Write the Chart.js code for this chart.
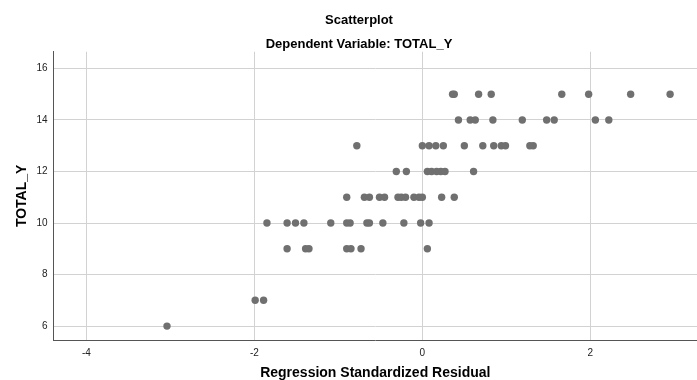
<!DOCTYPE html>
<html>
<head>
<meta charset="utf-8">
<script src="https://cdn.jsdelivr.net/npm/chart.js@4/dist/chart.umd.min.js"></script>
<style>
  html, body { margin: 0; padding: 0; background: #ffffff; }
  #wrap { width: 697px; height: 380px; }
</style>
</head>
<body>
<div id="wrap"><canvas id="c" width="697" height="380"></canvas></div>
<script>
// Regression standardized residuals (x) and TOTAL_Y (y)
const residuals = [
  -3.04,
  -1.99, -1.89,
  -1.61, -1.39, -1.35, -0.90, -0.85, -0.73, 0.06,
  -1.85, -1.61, -1.51, -1.41, -1.09, -0.90, -0.86, -0.66, -0.63, -0.47, -0.22, -0.02, 0.08,
  -0.90, -0.69, -0.63, -0.51, -0.45, -0.29, -0.25, -0.20, -0.10, -0.04, 0.00, 0.23, 0.38,
  -0.31, -0.19, 0.06, 0.11, 0.17, 0.22, 0.27, 0.61,
  -0.78, 0.00, 0.08, 0.16, 0.25, 0.50, 0.72, 0.85, 0.94, 0.99, 1.28, 1.32,
  0.43, 0.57, 0.63, 0.84, 1.19, 1.48, 1.57, 2.06, 2.22,
  0.36, 0.38, 0.67, 0.82, 1.66, 1.98, 2.48, 2.95
];
const totalY = [
  6,
  7, 7,
  9, 9, 9, 9, 9, 9, 9,
  10, 10, 10, 10, 10, 10, 10, 10, 10, 10, 10, 10, 10,
  11, 11, 11, 11, 11, 11, 11, 11, 11, 11, 11, 11, 11,
  12, 12, 12, 12, 12, 12, 12, 12,
  13, 13, 13, 13, 13, 13, 13, 13, 13, 13, 13, 13,
  14, 14, 14, 14, 14, 14, 14, 14, 14,
  15, 15, 15, 15, 15, 15, 15, 15
];
const xTicks = [-4, -2, 0, 2];
const yTicks = [6, 8, 10, 12, 14, 16];
const chartTitle = 'Scatterplot';
const chartSubtitle = 'Dependent Variable: TOTAL_Y';
const xTitle = 'Regression Standardized Residual';
const yTitle = 'TOTAL_Y';

const points = residuals.map((r, i) => ({ x: r, y: totalY[i] }));
const FONT = "Arial, 'Liberation Sans', sans-serif";

new Chart(document.getElementById('c'), {
  type: 'scatter',
  data: {
    datasets: [{
      data: points,
      backgroundColor: '#707070',
      borderColor: '#707070',
      borderWidth: 0,
      pointRadius: 3.7,
      pointHoverRadius: 3.7
    }]
  },
  options: {
    responsive: false,
    animation: false,
    layout: { autoPadding: false, padding: { left: 21, right: 0, top: 0, bottom: 0 } },
    plugins: {
      legend: { display: false },
      tooltip: { enabled: false },
      title: {
        display: true,
        text: chartTitle,
        color: '#000',
        font: { family: FONT, size: 13, weight: 'bold', lineHeight: 1.2 },
        padding: { top: 13, bottom: 0 }
      },
      subtitle: {
        display: true,
        text: chartSubtitle,
        color: '#000',
        font: { family: FONT, size: 13, weight: 'bold', lineHeight: 1.2 },
        padding: { top: 8.5, bottom: -1 }
      }
    },
    scales: {
      x: {
        type: 'linear',
        min: -4.39,
        max: 3.27,
        afterBuildTicks: (s) => { s.ticks = xTicks.map(v => ({ value: v })); },
        afterFit: (s) => { s.height = 40; s.paddingLeft = 0; s.paddingRight = 0; },
        grid: { color: '#d2d2d2', lineWidth: 1, drawTicks: false },
        border: { display: true, color: '#555', width: 1 },
        ticks: { color: '#222', font: { family: FONT, size: 10 }, padding: 7, maxRotation: 0 },
        title: {
          display: true,
          text: xTitle,
          color: '#000',
          font: { family: FONT, size: 14, weight: 'bold', lineHeight: 1.2 },
          padding: { top: 0, bottom: -1.5 }
        }
      },
      y: {
        type: 'linear',
        min: 5.46,
        max: 16.65,
        afterBuildTicks: (s) => { s.ticks = yTicks.map(v => ({ value: v })); },
        afterFit: (s) => { s.width = 32.6; s.paddingTop = 0; s.paddingBottom = 0; },
        grid: { color: '#d2d2d2', lineWidth: 1, drawTicks: false },
        border: { display: true, color: '#555', width: 1 },
        ticks: { color: '#222', font: { family: FONT, size: 10 }, padding: 6 },
        title: {
          display: true,
          text: yTitle,
          color: '#000',
          font: { family: FONT, size: 14, weight: 'bold', lineHeight: 1.2 },
          padding: { top: -7.5, bottom: 0 }
        }
      }
    }
  }
});
</script>
</body>
</html>
